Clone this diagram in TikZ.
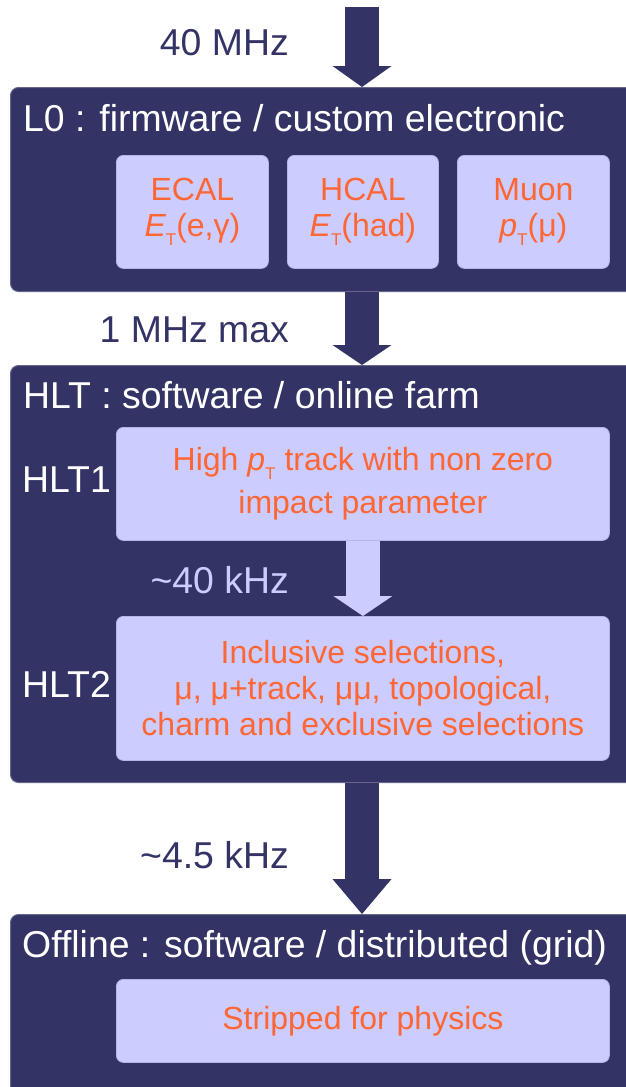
\documentclass[tikz,border=0pt]{standalone}
\usepackage{fontspec}
\setmainfont{Liberation Sans}
\usetikzlibrary{arrows.meta}
\definecolor{navy}{HTML}{333366}
\definecolor{lav}{HTML}{CCCCFF}
\definecolor{orng}{HTML}{FF6633}
\newcommand\subT{\raisebox{-9pt}{\fontsize{17}{17}\selectfont T}}
\newcommand\bigf{\fontsize{37.4}{44}\selectfont}
\newcommand\medf{\fontsize{32}{36}\selectfont}
\begin{document}
\begin{tikzpicture}[x=1pt,y=-1pt,
 darkbox/.style={fill=navy, draw=navy!75!white, line width=1pt, rounded corners=8pt, anchor=north west, inner sep=0pt, minimum width=640pt},
 litebox/.style={fill=lav, draw=lav!85!navy, line width=0.8pt, rounded corners=7pt, anchor=north west, inner sep=0pt, text=orng, align=center, font=\medf},
 ttl/.style={text=white, font=\bigf, anchor=base west, inner sep=0pt},
 rate/.style={text=navy, font=\bigf, anchor=base east, inner sep=0pt},
 bigarrow/.style={draw=navy, line width=34pt, -{Triangle[width=59pt,length=#1,line width=0pt]}},
]
\useasboundingbox (0,0) rectangle (626,1087);
\clip (0,0) rectangle (626,1087);

% dark stage boxes
\node[darkbox, minimum height=204pt] (L0) at (10,87) {};
\node[darkbox, minimum height=417pt] (HLT) at (10,365) {};
\node[darkbox, minimum height=200pt] (Off) at (10,914) {};

% titles
\node[ttl] (t0) at (23,131) {L0 : firmware / custom electronic};
\node[ttl] (t1) at (23,408) {HLT : software / online farm};
\node[ttl] (t2) at (22,957) {Offline : software / distributed (grid)};
\node[ttl] (h1) at (22,492) {HLT1};
\node[ttl] (h2) at (22,697) {HLT2};

% light boxes
\node[litebox, minimum width=152pt, minimum height=113pt] (ecal) at (116,155) {ECAL\\{\itshape E}\subT(e,γ)};
\node[litebox, minimum width=151pt, minimum height=113pt] (hcal) at (287,155) {HCAL\\{\itshape E}\subT(had)};
\node[litebox, minimum width=152pt, minimum height=113pt] (muon) at (457,155) {Muon\\{\itshape p}\subT(μ)};
\node[litebox, minimum width=493pt, minimum height=113pt, font=\fontsize{32}{43}\selectfont] (H1) at (116,427) {High {\itshape p}\subT\ track with non zero\\impact parameter};
\node[litebox, minimum width=493pt, minimum height=144pt] (H2) at (116,616) {Inclusive selections,\\μ, μ+track, μμ, topological,\\charm and exclusive selections};
\node[litebox, minimum width=493pt, minimum height=83pt] (strip) at (116,979) {Stripped for physics};

% arrows
\coordinate (src) at (362,7);
\draw[bigarrow=21pt] (src) -- (src |- L0.north);
\draw[bigarrow=20pt] (L0.south -| src) -- (HLT.north -| src);
\draw[bigarrow=20pt, draw=lav] (H1.south) -- (H2.north);
\draw[bigarrow=35pt] (HLT.south -| src) -- (Off.north -| src);

% rates
\node[rate] (r1) at (289,55) {40 MHz};
\node[rate] (r2) at (289,342) {1 MHz max};
\node[rate, text=lav] (r3) at (289,593) {\textasciitilde 40 kHz};
\node[rate] (r4) at (289,868) {\textasciitilde 4.5 kHz};
\end{tikzpicture}
\end{document}
